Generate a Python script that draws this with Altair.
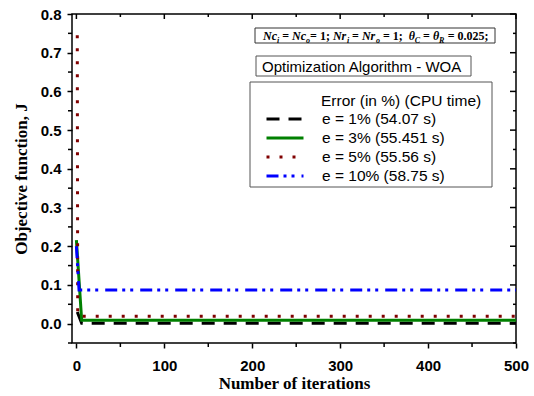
import altair as alt
import pandas as pd

# ---------------- data ----------------
series = ["e = 1% (54.07 s)", "e = 3% (55.451 s)", "e = 5% (55.56 s)", "e = 10% (58.75 s)"]
iters_e1 = [1, 6, 500]
vals_e1 = [0.030, 0.0012, 0.0012]
iters_e3 = [0, 6, 500]
vals_e3 = [0.216, 0.0085, 0.0085]
iters_e5 = [1, 1.5, 500]
vals_e5 = [0.745, 0.019, 0.019]
iters_e10 = [0, 3, 500]
vals_e10 = [0.200, 0.087, 0.087]

x_major = [0, 100, 200, 300, 400, 500]
x_minor = [50, 150, 250, 350, 450]
y_major = [0.0, 0.1, 0.2, 0.3, 0.4, 0.5, 0.6, 0.7, 0.8]
y_minor = [-0.05, 0.05, 0.15, 0.25, 0.35, 0.45, 0.55, 0.65, 0.75]

colors = ["#000000", "#008000", "#800000", "#0000ff"]
dashes = [[13, 9], [1, 0], [3, 10], [12, 5, 3, 5, 3, 7]]

# ---------------- table ----------------
rows = []
for name, xs_, ys_ in zip(series, [iters_e1, iters_e3, iters_e5, iters_e10],
                          [vals_e1, vals_e3, vals_e5, vals_e10]):
    for a, b in zip(xs_, ys_):
        rows.append({"series": name, "x": a, "y": b})
df = pd.DataFrame(rows)

W, H = 444, 329
SANS = "Liberation Sans"
SERIF = "Liberation Serif"

xscale = alt.Scale(domain=[-5, 500], nice=False, zero=False)
yscale = alt.Scale(domain=[-0.05, 0.8], nice=False, zero=False)
x_axis = alt.Axis(values=x_major, title="Number of iterations", format="d",
                  labelPadding=10, titlePadding=2)
y_axis = alt.Axis(values=y_major, title="Objective function, J", format=".1f",
                  labelPadding=6, titlePadding=10)


def XE():
    return alt.X("x:Q", scale=xscale, axis=x_axis)


def YE():
    return alt.Y("y:Q", scale=yscale, axis=y_axis)


legend = alt.Legend(
    orient="none", legendX=193, legendY=95.5, title=None,
    labelFont=SANS, labelFontSize=15.5, labelColor="black",
    symbolType="stroke", symbolSize=1369, symbolStrokeWidth=3,
    labelOffset=17, padding=0, rowPadding=0, clipHeight=19,
)

lines = alt.Chart(df).mark_line(strokeWidth=3, strokeCap="butt").encode(
    x=XE(), y=YE(),
    color=alt.Color("series:N", scale=alt.Scale(domain=series, range=colors), legend=legend),
    strokeDash=alt.StrokeDash("series:N", scale=alt.Scale(domain=series, range=dashes), legend=legend),
)

# ticks
xmaj = pd.DataFrame({"x": x_major})
xmin = pd.DataFrame({"x": x_minor})
ymaj = pd.DataFrame({"y": y_major})
ymin = pd.DataFrame({"y": y_minor})

rule = dict(color="black", strokeWidth=1.5)
bottom_minor = alt.Chart(xmin).mark_rule(**rule).encode(x=XE(), y=alt.value(H), y2=alt.value(H + 4))
left_minor = alt.Chart(ymin).mark_rule(**rule).encode(y=YE(), x=alt.value(0), x2=alt.value(-4))
top_major = alt.Chart(xmaj).mark_rule(**rule).encode(x=XE(), y=alt.value(0), y2=alt.value(5))
top_minor = alt.Chart(xmin).mark_rule(**rule).encode(x=XE(), y=alt.value(0), y2=alt.value(3))
right_major = alt.Chart(ymaj).mark_rule(**rule).encode(y=YE(), x=alt.value(W), x2=alt.value(W - 6))
right_minor = alt.Chart(ymin).mark_rule(**rule).encode(y=YE(), x=alt.value(W), x2=alt.value(W - 3))

one = alt.Data(values=[{"k": 1}])


def box(x1, x2, y1, y2, color="#444444"):
    return alt.Chart(one).mark_rect(filled=False, stroke=color, strokeWidth=1).encode(
        x=alt.value(x1), x2=alt.value(x2), y=alt.value(y1), y2=alt.value(y2))


def txt(s, x, y, size, font=SANS, weight="normal", style="normal", baseline="middle"):
    return alt.Chart(one).mark_text(
        align="left", baseline=baseline, font=font, fontSize=size, fontWeight=weight,
        fontStyle=style, color="black").encode(
        x=alt.value(x), y=alt.value(y), text=alt.value(s))


# legend box and title
legend_box = box(178, 420, 68, 173, color="#555555")
legend_title = txt("Error (in %) (CPU time)", 249, 87, 15.5)

# algorithm box
algo_box = box(184, 399, 42, 62, color="#555555")
algo_text = txt("Optimization Algorithm - WOA", 190, 52.5, 15)

# parameter box with subscripts
param_box = box(183, 423, 14, 29, color="#333333")
TW = {"N": 0.722, "c": 0.444, "r": 0.444, "i": 0.278, "o": 0.5, "=": 0.57, " ": 0.25,
      "1": 0.5, ";": 0.333, "θ": 0.5, "C": 0.667, "R": 0.722, "0": 0.5, ".": 0.25,
      "2": 0.5, "5": 0.5}


def tw(s, size):
    return sum(TW.get(ch, 0.5) for ch in s) * size


segs = [("Nc", "it"), ("i", "sub"), (" = ", "n"), ("Nc", "it"), ("o", "sub"), ("= 1; ", "n"),
        ("Nr", "it"), ("i", "sub"), (" = ", "n"), ("Nr", "it"), ("o", "sub"), (" = 1;  ", "n"),
        ("θ", "it"), ("C", "sub"), (" = ", "n"), ("θ", "it"), ("R", "sub"), (" = 0.025;", "n")]
MAIN, SUB = 12, 8
cur = 191
base = 25.5
param_layers = []
for s, kind in segs:
    size = SUB if kind == "sub" else MAIN
    lead = len(s) - len(s.lstrip(" "))
    core = s.strip(" ")
    x0 = cur + tw(" " * lead, size)
    param_layers.append(txt(core, x0, base + (3 if kind == "sub" else 0), size, font=SERIF,
                            weight="bold", style="normal" if kind == "n" else "italic",
                            baseline="alphabetic"))
    cur += tw(s, size)

chart = alt.layer(
    lines, bottom_minor, left_minor, top_major, top_minor, right_major, right_minor,
    legend_box, legend_title, algo_box, algo_text, param_box, *param_layers,
).properties(
    width=W, height=H,
    padding={"left": 72, "top": 14, "right": 18, "bottom": 53},
    autosize=alt.AutoSizeParams(type="none"),
).configure_view(
    stroke="black", strokeWidth=1.5
).configure_axis(
    grid=False, domain=False, tickColor="black", tickWidth=1.5, tickSize=5,
    labelFont=SANS, labelFontWeight="bold", labelFontSize=15, labelColor="black",
    labelFlush=False,
    titleFont=SERIF, titleFontWeight="bold", titleFontSize=17, titleColor="black",
)

chart.save("out.html", embed_options={"renderer": "svg", "actions": False})
